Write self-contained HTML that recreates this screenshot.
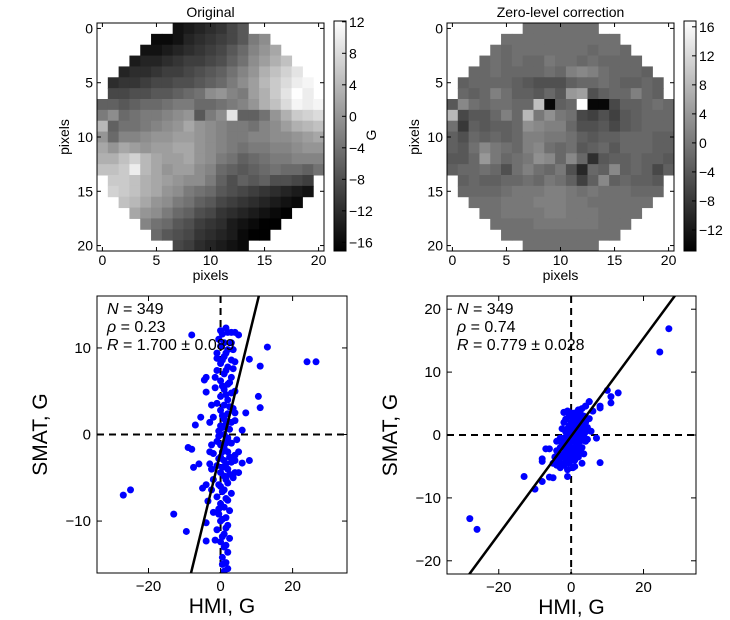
<!DOCTYPE html>
<html><head><meta charset="utf-8"><style>
html,body{margin:0;padding:0;background:#fff;width:730px;height:620px;overflow:hidden;}
svg{display:block;font-family:"Liberation Sans","DejaVu Sans",sans-serif;}
</style></head><body>
<svg id="fig" width="730" height="620" viewBox="0 0 730 620" xmlns="http://www.w3.org/2000/svg">
<defs>
<linearGradient id="cbg" x1="0" y1="1" x2="0" y2="0"><stop offset="0" stop-color="#000"/><stop offset="1" stop-color="#fff"/></linearGradient>
</defs>
</svg>
<script>
// ---------- heatmap data (rows 0..20, each row: first column index, values) ----------
const origStart=[7,5,4,3,2,1,1,0,0,0,0,0,0,0,1,1,2,3,4,5,7];
const origRows=[
[-15,-14,-13,-12,-11,-9,-7],
[-16,-16,-15,-13,-12,-11,-10,-9,-7,-3,-1],
[-15,-15,-14,-13,-12,-11,-10,-9,-7,-5,-2,0,2],
[-14,-13,-13,-12,-11,-10,-10,-9,-8,-6,-4,-1,1,3,5],
[-13,-12,-12,-11,-10,-10,-9,-8,-7,-6,-4,-2,0,3,5,7,9],
[-12,-11,-11,-10,-9,-9,-8,-8,-7,-6,-5,-3,-1,1,4,6,8,10,11],
[-9,-9,-8,-8,-7,-7,-6,-5,-4,-1,0,-2,-3,1,3,6,9,12,10],
[-6,-6,-7,-6,-5,-5,-4,-3,-3,-5,-5,-4,-3,-2,0,3,5,8,11,10,11],
[-3,-1,-5,-4,-3,-3,-2,-1,0,-7,-3,-1,9,-6,-6,-4,0,3,6,7,8],
[4,-6,-4,-4,-3,-2,-1,0,2,0,-1,-2,-3,-3,-4,-2,-1,1,3,4,5],
[0,-5,-2,-2,-1,0,0,1,1,0,-1,-2,-3,-3,-2,-2,-1,-1,0,1,2],
[2,0,2,1,0,1,1,2,2,0,-1,-2,-3,-4,-3,-3,-2,-2,-1,0,0],
[3,3,5,7,4,2,1,1,2,0,-1,-3,-4,-6,-5,-4,-3,-3,-2,-2,-2],
[5,5,6,10,4,2,0,1,1,-1,-2,-5,-6,-7,-6,-5,-4,-5,-5,-6,-4],
[6,6,5,3,2,1,0,-1,-1,-3,-6,-8,-6,-7,-6,-8,-8,-9,-10],
[7,6,5,3,2,0,-1,-3,-4,-5,-7,-8,-9,-10,-11,-12,-13,-14,-15],
[5,4,2,0,-1,-3,-4,-6,-7,-9,-10,-11,-12,-13,-14,-15,-16],
[2,0,-1,-3,-5,-6,-8,-9,-11,-12,-13,-14,-15,-16,-17],
[-2,-4,-5,-7,-8,-10,-11,-12,-14,-15,-16,-17,-17],
[-5,-7,-8,-9,-11,-12,-13,-14,-16,-17,-17],
[-9,-10,-12,-13,-14,-15,-16]];
const corrRows=[
[-1,-1,-1,-1,-1,-1,-1],
[-1,-1,-1,-1,-1,-1,-1,-1,-1,-1,-1],
[-1,-2,-1,-1,-1,-1,-1,-1,-1,-2,-1,-1,-2],
[-2,-1,-2,-1,-2,-2,0,-1,-1,-2,-1,-2,-2,-2,-2],
[-2,-2,-1,-2,-2,-2,-2,-1,-2,1,2,1,-1,-2,-2,-2,-3],
[-3,-2,-2,-2,-2,-3,-4,-5,-5,-5,-3,-2,-2,-1,-2,-3,-3,-2,-3],
[-2,-3,-2,1,-1,-3,-3,-4,-2,-4,4,5,-5,-3,-2,-2,1,-2,-3],
[-4,2,-1,-2,-1,-1,-2,-2,9,-14,-3,-2,17,-14,-14,-6,-3,-3,-2,-1,-2],
[8,-6,-4,-4,-2,1,-2,8,0,3,0,-1,-6,-7,-5,-7,-4,-3,-2,-2,-2],
[-1,-8,-3,-4,-3,-3,-2,3,2,1,1,-2,-5,-5,-4,-6,-4,-3,-2,-2,-2],
[-3,-5,-2,-3,-2,-3,-2,1,1,0,0,-1,-3,-4,-3,-3,-2,-2,-2,-3,-3],
[-3,-4,-1,2,0,-1,-2,1,2,-1,-2,-1,-4,-3,-2,-4,-2,-2,-2,-3,-3],
[-4,-4,-2,4,0,-2,-1,0,3,2,-2,2,-2,-9,-4,-3,-3,-2,-3,-3,-4],
[-3,-2,-2,-1,-2,-5,-1,1,-1,-2,0,-5,-10,-2,-3,2,-3,-2,-3,-6,-3],
[-3,-2,-3,-3,-2,-2,-1,-2,0,-1,-3,-7,-3,2,-3,-2,-3,-3,-4],
[-2,-2,-2,-2,-1,0,0,0,1,1,0,-1,0,-1,-1,-1,-2,-2,-2],
[-1,-1,-1,0,0,0,1,1,1,0,0,-1,-1,-1,-1,-1,-1],
[-1,-1,0,0,0,0,1,1,0,0,0,-1,-1,-1,-1],
[-1,-1,-1,-1,0,0,0,0,0,0,-1,-1,-1],
[-1,-1,-1,-1,-1,-1,-1,-1,-1,-1,-1],
[-1,-1,-1,-1,-1,-1,-1]];
const cbTicks1=[12,8,4,0,-4,-8,-12,-16];
const cbTicks2=[16,12,8,4,0,-4,-8,-12];
const pixTicks=[0,5,10,15,20];

// ---------- scatter data ----------
const hmi1=[1,2,1.5,0.5,2,1,0,2.5,1,-1,2,0,1.5,-0.5,2.5,1,0,2,-1,3,1,0,2,-2,3.5,1,0,2,-1,3,1,0,4,-2,2,1,0,3,-1,2,1,-0.5,2.5,0,3,1,-2,2,0,3.5,1,-1,2,0,3,1,-1.5,2,0,3,1,-1,2,0,3,1,-1,2,0,1,-0.5,0.5,2,0,
0.5,1.5,0.5,1.5,0.5,-0.5,1.5,0.5,-0.5,1.5,2.5,0.5,1.5,-0.5,2.5,0.5,1.5,-0.5,0.5,1.5,0.5,2.5,1.5,0.5,2.5,1.5,0.5,1.5,3,-1,-1.5,-2.5,-3,-2.5,-3,-2.5,4,4.5,4,4,3.5,4,3.5,-2,-1.5,-2.5,-3,
-27,-25,-13,-9.5,-9,-8,-7.5,-7,-4,-4,-3.5,-6,-5,-4,-8,-4,-4.5,-4,-5.5,8,11,13,10.5,11,7,8,24,26.5,4,6,5,6,5,4,5,4,3,1.5];
const smat1=[-15.8,-15.5,-14.8,-14.2,-13.6,-13,-12.4,-12,-11.5,-11,-10.5,-10,-9.6,-9.2,-8.8,-8.4,-8,-7.6,-7.2,-6.8,-6.4,-6,-5.6,-5.2,-5,-4.8,-4.4,-4,-3.6,-3.2,-3,-2.6,-2.4,-2.2,-2,-1.6,-1.2,-1,-0.8,-0.4,0,0.4,0.6,1,1.4,1.8,2,2.4,2.8,3,3.4,3.6,4,4.4,4.8,5.2,5.4,5.8,6.2,6.6,7,7.4,7.8,8.2,8.6,9,9.4,9.8,10.2,10.6,11,11.6,11.8,12,
-15,-12.8,-11.8,-10.8,-9.8,-8.6,-7.4,-6.6,-5.8,-5.2,-4.6,-3.8,-3.4,-2.8,-2.6,-2,-1,-0.2,0.8,1.2,2.2,3.2,4.6,5.6,6,7.4,8.6,9.4,10.6,8.8,6.6,3.4,1.4,-1.2,-3.4,-6.4,-3,-0.6,1.6,5,7.6,8.4,9.8,-9,-12.2,-4,-2,
-7,-6.4,-9.2,-11.2,-1.5,-1.7,-3.8,1.1,-12.3,-10.2,-7.7,-3.4,-6.2,-5.8,11.5,6.6,6.3,4.9,2.0,8.7,7.9,10.1,4.4,3.1,2.5,-3.0,8.4,8.4,2.5,0.5,-2,-3.3,-4.4,-4.4,11.5,11.8,11.8,12.3];
const hmi2=[-5,-4.5,-4,-4,-3.5,-3.5,-3,-3,-3,-2.5,-2.5,-2.5,-2,-2,-2,-2,-2,-2,-1.5,-1.5,-1.5,-1.5,-1.5,-1,-1,-1,-1,-1,-0.5,-0.5,-0.5,-0.5,-0.5,-0.5,0,0,0,0,0,0,0.5,0.5,0.5,0.5,0.5,1,1,1,1,1,1,1.5,1.5,1.5,1.5,1.5,2,2,2,2,2,2,2.5,2.5,2.5,2.5,2.5,3,3,3,3,3,3.5,3.5,3.5,3.5,4,4,4,4,4.5,4.5,5,5,5.5,6,-3,1,3,-4,-1,0.5,
-28,-26,-13,-10,-8,-8,-8,-7,-6,-6,-5,-1,8,7,10,11,11,13,24.5,27,5,4,8,8,-2,-1];
const smat2=[-4.5,-3.5,-4.8,-2.5,-4,-3,-4.5,-2,-0.5,-3.5,-1.5,1,-4.8,-3,-2,-0.5,2,3.6,-4,-2.5,-1,0.5,2.5,-3.5,-2,-0.5,1,3.8,-4.5,-3,-1.5,0,1.5,3,-4,-2.5,-1,0.5,2,3.5,-3.5,-2,-0.5,1,2.5,-4,-2.5,-1,0.5,2,3.5,-3,-1.5,0,1.5,3,-3.5,-2,-0.5,1,2.5,4,-2.5,-1,0.5,2,3.5,-2,-0.5,1,2.5,4.2,-3,0,1.5,3,-1,0.5,2,4.6,-0.7,1.2,2.6,5.3,0.6,3.8,-5.2,-5,-4.5,-1,-5.5,-5.2,
-13.3,-15,-6.6,-8.6,-7.4,-4.2,-3.8,-2.2,-2.2,-6.7,-6.8,-6.6,-4.4,-0.5,7.1,6.1,5.1,6.7,13.2,16.9,5.3,4.6,4.6,4.3,3.6,3.8];
const fit1=[1.7,-2.06];
const fit2=[0.779,-0.2];
const xTicks=[-20,0,20];
const yTicks1=[-10,0,10];
const yTicks2=[-20,-10,0,10,20];

const NS='http://www.w3.org/2000/svg';
const svg=document.getElementById('fig');
function mk(tag,attrs,parent){const e=document.createElementNS(NS,tag);for(const k in attrs)e.setAttribute(k,attrs[k]);(parent||svg).appendChild(e);return e;}
function txt(s,attrs,parent){const e=mk('text',attrs,parent);e.textContent=s;return e;}
function fmt(v){return v<0?'\u2212'+Math.abs(v):String(v);}

function heatmap(name,bx,by,bw,bh,rows,vmin,vmax,cbx,cbTicks,title){
  const g=mk('g',{});
  
  
  const cw=bw/21,ch=bh/21;
  const sx=v=>bx+(v+0.5)*cw, sy=v=>by+(v+0.5)*ch;
  rows.forEach((row,r)=>{row.forEach((v,i)=>{const c=origStart[r]+i;
    let t=(v-vmin)/(vmax-vmin);t=Math.max(0,Math.min(1,t));const gv=Math.round(t*255);
    const rc=mk('rect',{x:bx+c*cw,y:by+r*ch,width:cw+0.5,height:ch+0.5,fill:`rgb(${gv},${gv},${gv})`},g);
    
    
  });});
  const fr=mk('rect',{x:bx,y:by,width:bw,height:bh,fill:'none',stroke:'#000','stroke-width':1},g);
  
  
  pixTicks.forEach(p=>{
    mk('line',{x1:sx(p),x2:sx(p),y1:by+bh,y2:by+bh-4,stroke:'#000'},g);
    mk('line',{x1:sx(p),x2:sx(p),y1:by,y2:by+4,stroke:'#000'},g);
    mk('line',{x1:bx,x2:bx+4,y1:sy(p),y2:sy(p),stroke:'#000'},g);
    mk('line',{x1:bx+bw,x2:bx+bw-4,y1:sy(p),y2:sy(p),stroke:'#000'},g);
    const xl=txt(String(p),{x:sx(p),y:by+bh+14,'font-size':14,'text-anchor':'middle'},g);
    
    
    const yl=txt(String(p),{x:bx-4,y:sy(p)+5,'font-size':14,'text-anchor':'end'},g);
    
    
  });
  const xt=txt('pixels',{x:bx+bw/2,y:by+bh+29,'font-size':14,'text-anchor':'middle'},g);
  
  
  const yt=txt('pixels',{x:0,y:0,'font-size':14,'text-anchor':'middle',transform:`translate(${bx-28},${by+bh/2}) rotate(-90)`},g);
  
  
  const tt=txt(title,{x:bx+bw/2,y:by-6,'font-size':14,'text-anchor':'middle'},g);
  
  
  const cby=21,cbh=230,cbw=12;
  const cb=mk('rect',{x:cbx,y:cby,width:cbw,height:cbh,fill:'url(#cbg)',stroke:'#000','stroke-width':1},g);
  
  
  const cy=v=>cby+cbh-(v-vmin)/(vmax-vmin)*cbh;
  cbTicks.forEach(v=>{
    mk('line',{x1:cbx+cbw,x2:cbx+cbw-4,y1:cy(v),y2:cy(v),stroke:'#000'},g);
    const l=txt(fmt(v),{x:cbx+cbw+3,y:cy(v)+5,'font-size':14},g);
    
    
  });
  return g;
}
heatmap('original-heatmap',97,23,227,228,origRows,-17.1,12.1,334,cbTicks1,'Original');
const gl=txt('G',{x:0,y:0,'font-size':14,'text-anchor':'middle',transform:'translate(376,135) rotate(-90)'});


heatmap('corrected-heatmap',447,23,227,228,corrRows,-14.9,16.8,684,cbTicks2,'Zero-level correction');

function scatter(name,bx,by,bw,bh,xmin,xmax,ymin,ymax,xs,ys,fit,yTicks,stats){
  const g=mk('g',{});
  
  
  const sx=v=>bx+(v-xmin)/(xmax-xmin)*bw, sy=v=>by+bh-(v-ymin)/(ymax-ymin)*bh;
  const cid=name+'-clip';
  const cp=mk('clipPath',{id:cid},g);mk('rect',{x:bx,y:by,width:bw,height:bh},cp);
  const inner=mk('g',{'clip-path':`url(#${cid})`},g);
  const hz=mk('line',{x1:bx,x2:bx+bw,y1:sy(0),y2:sy(0),stroke:'#000','stroke-width':2,'stroke-dasharray':'7,5'},inner);
  
  
  const vz=mk('line',{x1:sx(0),x2:sx(0),y1:by,y2:by+bh,stroke:'#000','stroke-width':2,'stroke-dasharray':'7,5'},inner);
  
  
  xs.forEach((x,i)=>{
    const c=mk('circle',{cx:sx(x),cy:sy(ys[i]),r:3.5,fill:'#0000ff'},inner);
    
    
  });
  const fl=mk('line',{x1:sx(xmin),y1:sy(fit[0]*xmin+fit[1]),x2:sx(xmax),y2:sy(fit[0]*xmax+fit[1]),stroke:'#000','stroke-width':2.5},inner);
  
  
  const fr=mk('rect',{x:bx,y:by,width:bw,height:bh,fill:'none',stroke:'#000','stroke-width':1},g);
  
  
  xTicks.forEach(v=>{
    mk('line',{x1:sx(v),x2:sx(v),y1:by+bh,y2:by+bh-5,stroke:'#000'},g);
    mk('line',{x1:sx(v),x2:sx(v),y1:by,y2:by+5,stroke:'#000'},g);
    const l=txt(fmt(v),{x:sx(v),y:by+bh+18,'font-size':15,'text-anchor':'middle'},g);
    
    
  });
  yTicks.forEach(v=>{
    mk('line',{x1:bx,x2:bx+5,y1:sy(v),y2:sy(v),stroke:'#000'},g);
    mk('line',{x1:bx+bw,x2:bx+bw-5,y1:sy(v),y2:sy(v),stroke:'#000'},g);
    const l=txt(fmt(v),{x:bx-6,y:sy(v)+5,'font-size':15,'text-anchor':'end'},g);
    
    
  });
  const xt=txt('HMI, G',{x:bx+bw/2,y:by+bh+40,'font-size':21,'text-anchor':'middle'},g);
  
  
  const yt=txt('SMAT, G',{x:0,y:0,'font-size':21,'text-anchor':'middle',transform:`translate(${bx-50},${by+bh/2}) rotate(-90)`},g);
  
  
  stats.forEach((s,i)=>{
    const t=mk('text',{x:bx+10,y:by+18+i*18,'font-size':16},g);
    
    
    const a=mk('tspan',{'font-style':'italic'},t);a.textContent=s[0];
    const b=mk('tspan',{},t);b.textContent=s[1];
  });
}
scatter('scatter-original',97,296,250,277,-34.3,35.1,-16,16,hmi1,smat1,fit1,yTicks1,
  [['N',' = 349'],['\u03c1',' = 0.23'],['R',' = 1.700 \u00b1 0.089']]);
scatter('scatter-corrected',447,296,249,278,-34.3,34.5,-22.1,22.1,hmi2,smat2,fit2,yTicks2,
  [['N',' = 349'],['\u03c1',' = 0.74'],['R',' = 0.779 \u00b1 0.028']]);
</script>
</body></html>
